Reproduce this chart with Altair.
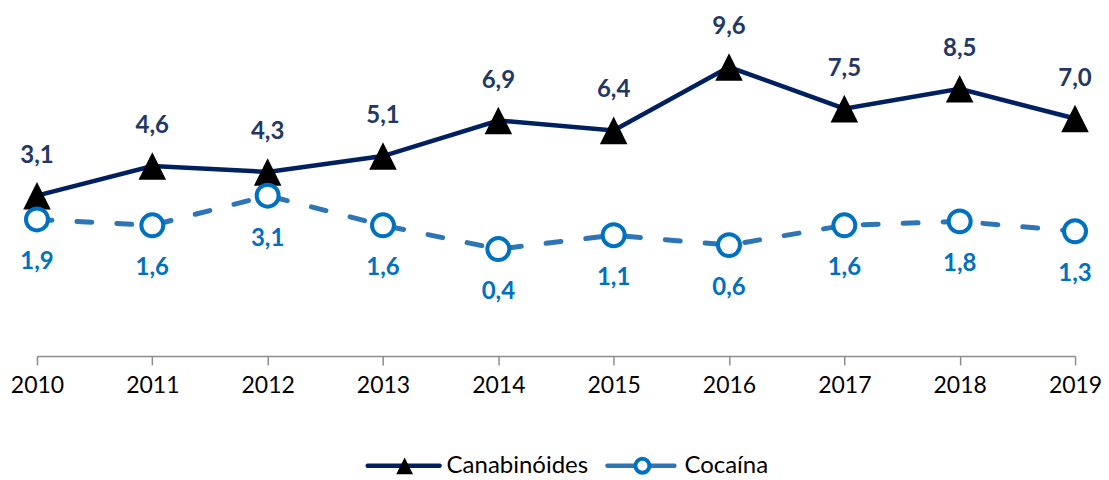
import altair as alt
import pandas as pd

years = ["2010", "2011", "2012", "2013", "2014", "2015", "2016", "2017", "2018", "2019"]
canabinoides = [3.1, 4.6, 4.3, 5.1, 6.9, 6.4, 9.6, 7.5, 8.5, 7.0]
cocaina = [1.9, 1.6, 3.1, 1.6, 0.4, 1.1, 0.6, 1.6, 1.8, 1.3]
series_names = ["Canabinóides", "Cocaína"]

df = pd.DataFrame({
    "year": years,
    "canab": canabinoides,
    "coca": cocaina,
    "canab_lbl": [f"{v:.1f}".replace(".", ",") for v in canabinoides],
    "coca_lbl": [f"{v:.1f}".replace(".", ",") for v in cocaina],
})
leg = pd.DataFrame({"k": [0]})

FONT = "Lato"
TRI = "M0,-1L1,1L-1,1Z"

x = alt.X("year:O", scale=alt.Scale(type="point", padding=0),
          axis=alt.Axis(title=None, labelAngle=0, labelFont=FONT, labelFontSize=23,
                        labelColor="#000000", domainColor="#8c8c8c", domainWidth=1.5,
                        tickColor="#8c8c8c", tickWidth=1.5, tickSize=9, labelPadding=10,
                        grid=False))
ysc = alt.Scale(domain=[-5, 10])
yc = alt.Y("canab:Q", scale=ysc, axis=None)
yk = alt.Y("coca:Q", scale=ysc, axis=None)

base = alt.Chart(df)
l1 = base.mark_line(color="#002060", strokeWidth=4.5).encode(x=x, y=yc)
p1 = base.mark_point(shape=TRI, size=760, filled=True, color="black", opacity=1).encode(x=x, y=yc)
l2 = base.mark_line(color="#2E75B6", strokeWidth=5, strokeDash=[15, 25], strokeCap="round").encode(x=x, y=yk)
p2 = base.mark_point(shape="circle", size=484, filled=True, fill="white", stroke="#0070C0",
                     strokeWidth=4, opacity=1).encode(x=x, y=yk)
t1 = base.mark_text(dy=-40, font=FONT, fontWeight="bold", fontSize=24, color="#1F3864").encode(
    x=x, y=yc, text="canab_lbl:N")
t2 = base.mark_text(dy=43, font=FONT, fontWeight="bold", fontSize=24, color="#0070C0").encode(
    x=x, y=yk, text="coca_lbl:N")

lb = alt.Chart(leg)
LY = 407
g1 = lb.mark_rule(color="#002060", strokeWidth=4.5, strokeCap="round").encode(
    x=alt.value(331), x2=alt.value(403), y=alt.value(LY))
g1p = lb.mark_point(shape=TRI, size=280, filled=True, color="black", opacity=1).encode(
    x=alt.value(368), y=alt.value(LY))
g1t = lb.mark_text(align="left", baseline="middle", font=FONT, fontSize=24, color="#000000").encode(
    x=alt.value(410), y=alt.value(LY), text=alt.value(series_names[0]))
g2 = lb.mark_rule(color="#2E75B6", strokeWidth=4.5, strokeCap="round").encode(
    x=alt.value(571), x2=alt.value(638), y=alt.value(LY))
g2p = lb.mark_point(shape="circle", size=196, filled=True, fill="white", stroke="#0070C0",
                    strokeWidth=4, opacity=1).encode(x=alt.value(606), y=alt.value(LY))
g2t = lb.mark_text(align="left", baseline="middle", font=FONT, fontSize=24, color="#000000").encode(
    x=alt.value(648), y=alt.value(LY), text=alt.value(series_names[1]))

chart = alt.layer(l1, p1, l2, p2, t1, t2, g1, g1p, g1t, g2, g2p, g2t).properties(
    width=1039, height=297,
    autosize=alt.AutoSizeParams(type="none"),
    padding={"left": 29, "top": 51, "right": 26, "bottom": 122},
).configure_view(stroke=None)

chart.save("out.html", embed_options={"renderer": "svg", "actions": False})
